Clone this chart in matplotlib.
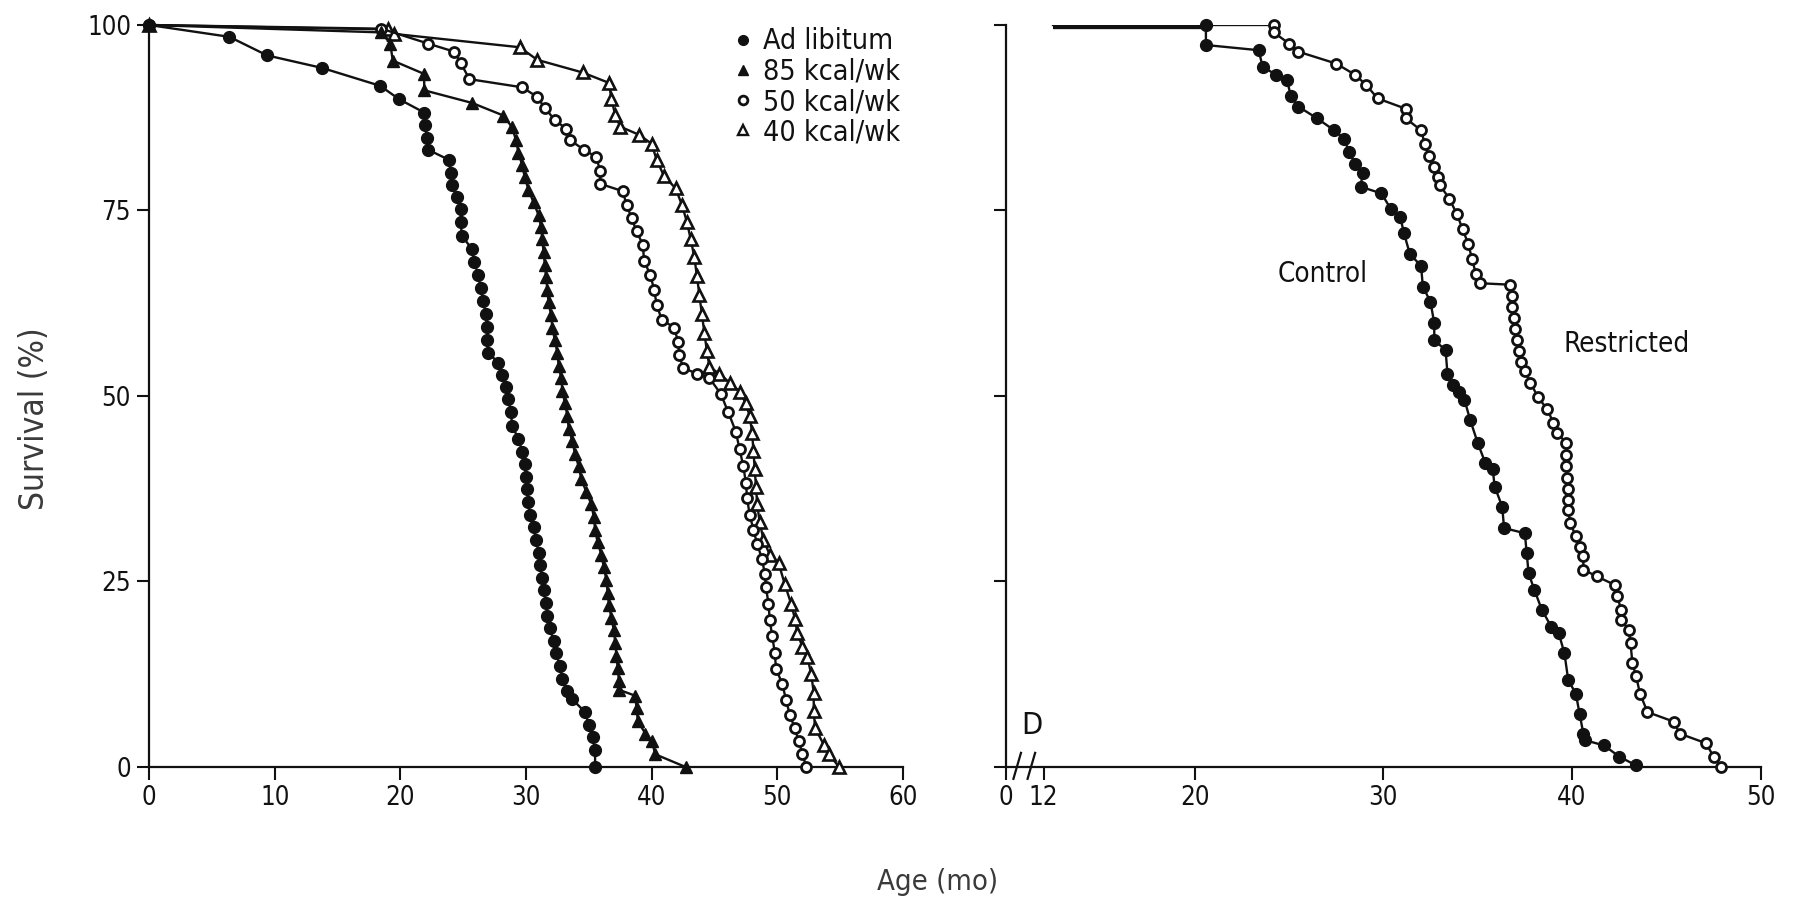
import matplotlib
matplotlib.use("Agg")
import matplotlib.pyplot as plt
from matplotlib.lines import Line2D
from matplotlib import font_manager as fm

# use a condensed face when one is installed, otherwise Liberation Sans
cond = fm.findfont(fm.FontProperties(family='DejaVu Sans', stretch='condensed'), fallback_to_default=False)
if 'Condensed' in cond:
    plt.rcParams['font.family'] = ['DejaVu Sans']
    plt.rcParams['font.stretch'] = 'condensed'
else:
    plt.rcParams['font.family'] = ['Liberation Sans', 'DejaVu Sans']

# ---- left panel: survival (%) vs age (mo), four diets
adlib_months = [0, 6.4, 9.4, 13.8, 18.4, 19.9, 21.9, 22.0, 22.1, 22.2, 23.9, 24.0, 24.1, 24.5,
                24.8, 24.8, 24.9, 25.7, 25.9, 26.2, 26.4, 26.6, 26.8, 26.9, 26.9, 27.0, 27.8,
                28.1, 28.4, 28.6, 28.8, 28.9, 29.4, 29.7, 29.9, 30.0, 30.1, 30.2, 30.3, 30.6,
                30.8, 31.0, 31.1, 31.3, 31.4, 31.6, 31.7, 31.9, 32.2, 32.4, 32.7, 32.9, 33.3,
                33.7, 34.7, 35.0, 35.3, 35.5, 35.5]
adlib_surv = [100, 98.4, 95.9, 94.2, 91.8, 90.0, 88.2, 86.5, 84.8, 83.2, 81.8, 80.0, 78.4, 76.8,
              75.2, 73.4, 71.6, 69.8, 68.0, 66.3, 64.5, 62.8, 61.0, 59.3, 57.5, 55.8, 54.5,
              52.8, 51.2, 49.6, 47.8, 46.0, 44.2, 42.5, 40.8, 39.1, 37.4, 35.7, 34.0, 32.3,
              30.6, 28.9, 27.2, 25.5, 23.8, 22.1, 20.4, 18.7, 17.0, 15.3, 13.6, 11.9, 10.2,
              9.1, 7.4, 5.7, 4.0, 2.3, 0]

kcal85_months = [0, 18.5, 19.2, 19.4, 21.9, 21.9, 25.7, 28.2, 28.9, 29.2, 29.4, 29.7, 29.9, 30.2,
                 30.6, 31.0, 31.2, 31.3, 31.4, 31.5, 31.6, 31.7, 31.8, 32.0, 32.1, 32.3, 32.5,
                 32.6, 32.8, 32.9, 33.1, 33.3, 33.4, 33.7, 33.9, 34.2, 34.4, 34.8, 35.2, 35.4,
                 35.5, 35.7, 36.0, 36.2, 36.4, 36.5, 36.6, 36.8, 37.0, 37.1, 37.2, 37.3, 37.4,
                 37.4, 38.7, 38.8, 38.9, 39.5, 40.0, 40.3, 42.7]
kcal85_surv = [100, 99.0, 97.5, 95.2, 93.4, 91.2, 89.5, 87.8, 86.2, 84.5, 82.8, 81.1, 79.5, 77.8,
               76.1, 74.4, 72.8, 71.1, 69.4, 67.7, 66.0, 64.3, 62.6, 60.9, 59.2, 57.5, 55.8,
               54.1, 52.4, 50.7, 49.0, 47.3, 45.6, 43.9, 42.2, 40.5, 38.8, 37.1, 35.4, 33.7,
               32.0, 30.3, 28.6, 26.9, 25.2, 23.5, 21.8, 20.1, 18.4, 16.7, 15.0, 13.3, 11.6,
               10.4, 9.6, 7.9, 6.2, 4.5, 3.5, 1.7, 0]

kcal50_months = [0, 18.5, 22.2, 24.3, 24.8, 25.5, 29.7, 30.9, 31.5, 32.3, 33.2, 33.5, 34.6, 35.6,
                 35.9, 35.9, 37.7, 38.0, 38.4, 38.8, 39.3, 39.4, 39.9, 40.2, 40.4, 40.8, 41.8,
                 42.1, 42.2, 42.5, 43.6, 44.6, 45.5, 46.1, 46.7, 47.0, 47.3, 47.5, 47.6, 47.8,
                 48.1, 48.4, 48.8, 49.0, 49.1, 49.3, 49.4, 49.6, 49.8, 49.9, 50.4, 50.7, 51.0,
                 51.4, 51.7, 52.0, 52.3]
kcal50_surv = [100, 99.5, 97.5, 96.4, 94.9, 92.7, 91.6, 90.3, 88.8, 87.2, 86.0, 84.5, 83.2, 82.2,
               80.3, 78.6, 77.6, 75.8, 74.0, 72.2, 70.4, 68.2, 66.3, 64.3, 62.3, 60.3, 59.2,
               57.3, 55.5, 53.8, 53.0, 52.4, 50.3, 47.8, 45.2, 42.8, 40.5, 38.3, 36.2, 34.0,
               32.0, 30.0, 28.0, 26.0, 24.2, 22.0, 19.8, 17.6, 15.4, 13.2, 11.2, 9.0, 7.0,
               5.2, 3.5, 1.8, 0]

kcal40_months = [0, 19.0, 19.5, 29.5, 30.9, 34.5, 36.6, 36.8, 37.1, 37.5, 39.0, 40.0, 40.4, 41.0,
                 41.9, 42.4, 42.8, 43.1, 43.4, 43.6, 43.8, 44.0, 44.2, 44.4, 44.6, 45.4, 46.2,
                 47.0, 47.5, 47.8, 48.0, 48.1, 48.2, 48.3, 48.4, 48.6, 48.9, 49.4, 50.1, 50.6,
                 51.1, 51.4, 51.6, 52.0, 52.4, 52.7, 52.9, 52.9, 53.0, 53.7, 54.1, 54.9]
kcal40_surv = [100, 99.4, 98.8, 97.0, 95.3, 93.6, 92.2, 90.0, 87.9, 86.3, 85.2, 84.0, 81.8, 79.6,
               78.0, 75.8, 73.5, 71.2, 68.7, 66.2, 63.6, 61.0, 58.5, 56.0, 53.9, 53.0, 51.8,
               50.6, 49.0, 47.3, 45.0, 42.6, 40.2, 37.8, 35.4, 33.0, 30.6, 28.6, 27.5, 24.6,
               22.0, 20.0, 18.0, 16.2, 14.8, 12.5, 10.0, 7.6, 5.3, 3.0, 1.8, 0]

# ---- right panel (D): control vs restricted
control_months = [12.5, 20.6, 20.6, 23.4, 23.6, 24.3, 24.9, 25.1, 25.5, 26.5, 27.4, 27.9, 28.2,
                  28.5, 28.9, 28.8, 29.9, 30.4, 30.9, 31.1, 31.4, 32.0, 32.1, 32.5, 32.7, 32.7,
                  33.3, 33.4, 33.7, 34.0, 34.3, 34.6, 35.0, 35.4, 35.8, 35.9, 36.3, 36.4, 37.5,
                  37.6, 37.7, 38.0, 38.4, 38.9, 39.3, 39.6, 39.8, 40.2, 40.4, 40.6, 40.7, 41.7,
                  42.5, 43.4]
control_surv = [100, 100, 97.3, 96.6, 94.4, 93.3, 92.6, 90.4, 89.0, 87.4, 85.8, 84.7, 82.9,
                81.3, 80.0, 78.2, 77.3, 75.2, 74.1, 71.9, 69.2, 67.5, 64.7, 62.7, 59.8, 57.5,
                56.2, 53.0, 51.5, 50.5, 49.5, 46.8, 43.7, 41.0, 40.1, 37.8, 35.1, 32.2, 31.5,
                28.8, 26.1, 23.9, 21.2, 18.9, 18.0, 15.3, 11.7, 9.9, 7.2, 4.5, 3.6, 2.9,
                1.4, 0.2]

restr_months = [12.5, 24.2, 24.2, 25.0, 25.5, 27.5, 28.5, 29.1, 29.7, 31.2, 31.2, 32.0, 32.2,
                32.4, 32.7, 32.9, 33.0, 33.5, 33.9, 34.2, 34.5, 34.7, 34.9, 35.1, 36.7, 36.8,
                36.8, 36.9, 37.0, 37.1, 37.2, 37.3, 37.5, 37.8, 38.2, 38.7, 39.0, 39.2, 39.7,
                39.7, 39.7, 39.75, 39.8, 39.8, 39.8, 39.9, 40.2, 40.4, 40.6, 40.6, 41.3, 42.3,
                42.4, 42.6, 42.6, 43.0, 43.1, 43.2, 43.4, 43.6, 44.0, 45.4, 45.7, 47.1, 47.5,
                47.9]
restr_surv = [100, 100, 99.0, 97.5, 96.4, 94.8, 93.3, 91.9, 90.1, 88.7, 87.4, 85.8, 84.0,
              82.4, 80.8, 79.5, 78.4, 76.6, 74.5, 72.5, 70.5, 68.5, 66.5, 65.2, 65.0, 63.5,
              62.0, 60.5, 59.0, 57.5, 56.0, 54.6, 53.3, 51.8, 49.8, 48.2, 46.4, 45.0, 43.7,
              42.0, 40.5, 39.0, 37.4, 36.0, 34.7, 32.9, 31.1, 29.7, 28.4, 26.6, 25.7, 24.5,
              23.0, 21.2, 19.8, 18.5, 16.7, 14.0, 12.2, 9.9, 7.4, 6.1, 4.5, 3.2, 1.4,
              0.0]

y_ticks = [0, 25, 50, 75, 100]
left_xticks = [0, 10, 20, 30, 40, 50, 60]
right_xticks = [10, 12, 20, 30, 40, 50]
right_xlabels = ['0', '12', '20', '30', '40', '50']
legend_labels = ['Ad libitum', '85 kcal/wk', '50 kcal/wk', '40 kcal/wk']

ink = '#111111'
grey = '#3a3a3a'
fs = 18.5

fig = plt.figure(figsize=(17.93, 9.02), dpi=100)
ax1 = fig.add_axes([0.0831, 0.1497, 0.4205, 0.8226])
ax2 = fig.add_axes([0.561, 0.1497, 0.421, 0.8226])

line_kw = dict(color=ink, lw=1.7, clip_on=False, zorder=3)
filled_o = dict(marker='o', ms=8.5, mfc=ink, mec=ink, mew=1)
filled_t = dict(marker='^', ms=9, mfc=ink, mec=ink, mew=1)
open_o = dict(marker='o', ms=7.2, mfc='white', mec=ink, mew=2)
open_t = dict(marker='^', ms=8.5, mfc='white', mec=ink, mew=1.9)

# left panel
ax1.plot(kcal40_months, kcal40_surv, **line_kw, **open_t)
ax1.plot(kcal50_months, kcal50_surv, **line_kw, **open_o)
ax1.plot(kcal85_months, kcal85_surv, **line_kw, **filled_t)
ax1.plot(adlib_months, adlib_surv, **line_kw, **filled_o)

handles = [
    Line2D([], [], ls='none', marker='o', ms=7, mfc=ink, mec=ink),
    Line2D([], [], ls='none', marker='^', ms=7.5, mfc=ink, mec=ink),
    Line2D([], [], ls='none', marker='o', ms=6.3, mfc='white', mec=ink, mew=2),
    Line2D([], [], ls='none', marker='^', ms=7, mfc='white', mec=ink, mew=1.7),
]
ax1.legend(handles, legend_labels, loc='upper left', bbox_to_anchor=(0.762, 1.012),
           frameon=False, fontsize=20.5, handlelength=0.6, handletextpad=0.4,
           labelspacing=0.08, borderaxespad=0, labelcolor=ink)

ax1.set_xlim(0, 60)
ax1.set_ylim(0, 100)
ax1.set_xticks(left_xticks)
ax1.set_yticks(y_ticks)
ax1.set_ylabel('Survival (%)', fontsize=24, color=grey)
ax1.yaxis.set_label_coords(-0.13, 0.47)

# right panel
ax2.plot(control_months[:2], control_surv[:2], color=ink, lw=6, solid_capstyle='butt', zorder=3)
ax2.plot(restr_months[:2], restr_surv[:2], color=ink, lw=1.7, zorder=3)
ax2.plot(restr_months[1:], restr_surv[1:], **line_kw, **open_o)
ax2.plot(control_months[1:], control_surv[1:], **line_kw, **filled_o)

ax2.set_xlim(10, 50)
ax2.set_ylim(0, 100)
ax2.set_xticks(right_xticks)
ax2.set_xticklabels(right_xlabels)
ax2.set_yticks(y_ticks)
ax2.set_yticklabels([])

ax2.text(26.8, 66.5, 'Control', fontsize=20, ha='center', va='center', color=ink)
ax2.text(42.9, 57.0, 'Restricted', fontsize=20, ha='center', va='center', color=ink)
ax2.text(11.4, 5.6, 'D', fontsize=22, ha='center', va='center', color=ink)

# axis break marks between 0 and 12
x0 = ax2.get_xlim()[0]
for dx in (0.6, 1.35):
    ax2.plot([x0 + dx - 0.2, x0 + dx + 0.2], [-1.6, 1.9], color=ink, lw=1.6, clip_on=False)

for ax in (ax1, ax2):
    for side in ('top', 'right'):
        ax.spines[side].set_visible(False)
    for side in ('left', 'bottom'):
        ax.spines[side].set_linewidth(1.6)
        ax.spines[side].set_color(ink)
    ax.tick_params(direction='out', length=9, width=1.5, colors=ink, labelsize=fs, pad=4)

fig.text(0.523, 0.022, 'Age (mo)', fontsize=21, color=grey, ha='center', va='center')

fig.savefig('out.png', dpi=100, facecolor='white')
